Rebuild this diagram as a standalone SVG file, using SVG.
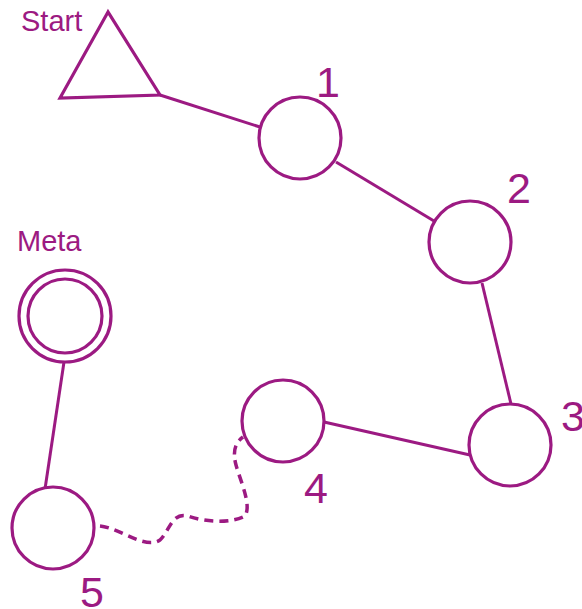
<svg xmlns="http://www.w3.org/2000/svg" width="582" height="609" viewBox="0 0 582 609">
<style>
.n{fill:#fff;stroke:#9c1a82;stroke-width:3.2}
.e{fill:none;stroke:#9c1a82;stroke-width:3}
.d{fill:none;stroke:#9c1a82;stroke-width:3.5;stroke-dasharray:9 6}
.t{fill:#9c1a82;font-family:"Liberation Sans",Arial,sans-serif}
.big{font-size:43px}
.sm{font-size:29px}
</style>
<rect width="582" height="609" fill="#fff"/>
<g id="connectors">
<line class="e" x1="160" y1="95" x2="260" y2="127"/>
<line class="e" x1="336" y1="162" x2="434" y2="221"/>
<line class="e" x1="482" y1="283" x2="511" y2="404"/>
<line class="e" x1="470" y1="455" x2="324" y2="422"/>
<line class="e" x1="64" y1="362" x2="45" y2="489"/>
<path class="d" d="M100,526 C120,528 145,550 160,540 C170,530 172,512 188,516 C205,522 230,524 245,516 C252,505 240,480 236,465 C232,450 236,442 243,437"/>
</g>
<g id="start">
<polygon class="n" stroke-width="4" points="108,12 60,98 160,95"/>
<text class="t sm" x="21" y="31">Start</text>
</g>
<g id="n1"><circle class="n" cx="300" cy="138" r="41"/><text class="t big" x="316" y="97">1</text></g>
<g id="n2"><circle class="n" cx="470" cy="242" r="41"/><text class="t big" x="507" y="203">2</text></g>
<g id="n3"><circle class="n" cx="510" cy="445" r="41"/><text class="t big" x="561" y="431">3</text></g>
<g id="n4"><circle class="n" cx="283" cy="421" r="41"/><text class="t big" x="304" y="503">4</text></g>
<g id="n5"><circle class="n" cx="53" cy="528" r="41"/><text class="t big" x="80" y="607">5</text></g>
<g id="meta"><circle class="n" cx="65" cy="316" r="46"/><circle class="n" cx="65" cy="316" r="37"/><text class="t sm" x="17" y="251">Meta</text></g>
</svg>
